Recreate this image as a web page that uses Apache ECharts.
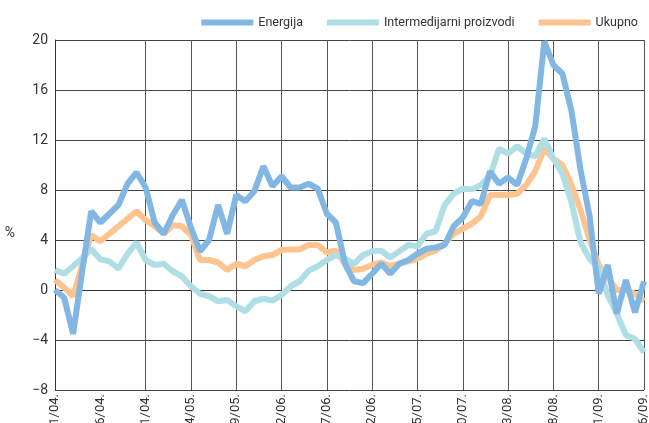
<!DOCTYPE html>
<html>
<head>
<meta charset="utf-8">
<script src="https://cdn.jsdelivr.net/npm/echarts@6/dist/echarts.min.js"></script>
<style>
  html, body { margin: 0; padding: 0; background: #fff; }
  #chart { width: 649px; height: 423px; }
</style>
</head>
<body>
<div id="chart"></div>
<script>
// Monthly categories 1/04. .. 6/09.
const months = [];
for (let y = 4; y <= 9; y++) {
  for (let m = 1; m <= 12; m++) {
    if (y === 9 && m > 6) break;
    months.push(m + '/0' + y + '.');
  }
}

const energija = [
  0.0, -0.6, -3.5, 1.5, 6.3, 5.4, 6.1, 6.8, 8.5, 9.4, 8.2, 5.4,
  4.5, 6.0, 7.2, 5.0, 3.1, 4.0, 6.8, 4.5, 7.6, 7.1, 7.9, 9.9,
  8.3, 9.1, 8.2, 8.2, 8.5, 8.1, 6.1, 5.4, 2.1, 0.7, 0.55, 1.3,
  2.1, 1.3, 2.1, 2.4, 2.9, 3.3, 3.4, 3.6, 5.1, 5.8, 7.1, 6.9,
  9.5, 8.5, 9.0, 8.4, 10.5, 13.1, 19.9, 18.0, 17.3, 14.3, 9.6, 5.9,
  -0.3, 2.0, -1.9, 0.8, -1.8, 0.7
];

const intermedijarni = [
  1.6, 1.3, 1.9, 2.55, 3.3, 2.45, 2.3, 1.7, 2.9, 3.8, 2.4, 2.0,
  2.1, 1.5, 1.1, 0.3, -0.3, -0.5, -0.9, -0.8, -1.3, -1.7, -0.9, -0.7,
  -0.85, -0.4, 0.3, 0.7, 1.55, 1.9, 2.4, 2.8, 2.5, 2.1, 2.8, 3.1,
  3.15, 2.6, 3.1, 3.6, 3.5, 4.5, 4.7, 6.8, 7.7, 8.1, 8.05, 8.4,
  9.1, 11.3, 10.9, 11.5, 10.9, 10.7, 12.1, 10.5, 9.3, 7.0, 3.8, 2.5,
  1.8, -0.4, -1.9, -3.6, -3.9, -5.0
];

const ukupno = [
  0.8, 0.2, -0.5, 2.0, 4.4, 3.9, 4.5, 5.1, 5.7, 6.3, 5.6, 5.1,
  4.5, 5.2, 5.1, 4.4, 2.4, 2.4, 2.2, 1.6, 2.1, 1.9, 2.4, 2.7,
  2.8, 3.2, 3.25, 3.25, 3.6, 3.6, 3.0, 3.15, 2.1, 1.6, 1.7, 2.0,
  2.2, 1.9, 2.1, 2.3, 2.5, 2.9, 3.15, 3.7, 4.5, 4.9, 5.3, 5.9,
  7.6, 7.6, 7.6, 7.7, 8.4, 9.5, 11.3, 10.5, 10.0, 8.4, 6.4, 4.0,
  2.0, 1.0, 0.0, 0.0, -0.3, -0.9
];

const FONT = 'Roboto, "Liberation Sans", sans-serif';

const txt = (size) => ({ fontFamily: FONT, fontSize: size, color: '#333' });

const chart = echarts.init(document.getElementById('chart'));

chart.setOption({
  animation: false,
  textStyle: { fontFamily: FONT },
  legend: {
    right: 6,
    top: 11,
    icon: 'rect',
    itemWidth: 52,
    itemHeight: 6,
    itemGap: 24,
    textStyle: txt(12.5),
    data: ['Energija', 'Intermedijarni proizvodi', 'Ukupno']
  },
  grid: { left: 55, right: 5, top: 40, bottom: 33, containLabel: false, outerBoundsMode: 'none' },
  xAxis: {
    type: 'category',
    data: months,
    boundaryGap: false,
    axisLine: { show: true, lineStyle: { color: '#333', width: 1 } },
    axisTick: { show: false },
    axisLabel: Object.assign({ interval: 4, rotate: 90, margin: 4 }, txt(13)),
    splitLine: {
      show: true,
      interval: (i) => i % 5 === 0 && i !== 0 && i !== 5,
      lineStyle: { color: '#555', width: 1 }
    }
  },
  yAxis: {
    type: 'value',
    min: -8,
    max: 20,
    interval: 4,
    name: '%',
    nameLocation: 'middle',
    nameRotate: 0,
    nameGap: 40,
    nameTextStyle: Object.assign({ verticalAlign: 'top', lineHeight: 36 }, txt(14)),
    axisLine: { show: true, lineStyle: { color: '#333', width: 1 } },
    axisTick: { show: false },
    axisLabel: Object.assign({
      margin: 7,
      formatter: (v) => String(v).replace('-', '\u2212')
    }, txt(14)),
    splitLine: { show: true, lineStyle: { color: '#444', width: 1 } }
  },
  series: [
    {
      name: 'Energija',
      type: 'line',
      data: energija,
      symbol: 'none',
      z: 4,
      lineStyle: { color: '#82b7e3', width: 6 },
      itemStyle: { color: '#82b7e3' }
    },
    {
      name: 'Intermedijarni proizvodi',
      type: 'line',
      data: intermedijarni,
      symbol: 'none',
      z: 3,
      lineStyle: { color: '#afdfe5', width: 6 },
      itemStyle: { color: '#afdfe5' }
    },
    {
      name: 'Ukupno',
      type: 'line',
      data: ukupno,
      symbol: 'none',
      z: 2,
      lineStyle: { color: '#fdc48f', width: 6 },
      itemStyle: { color: '#fdc48f' }
    }
  ]
});
</script>
</body>
</html>
